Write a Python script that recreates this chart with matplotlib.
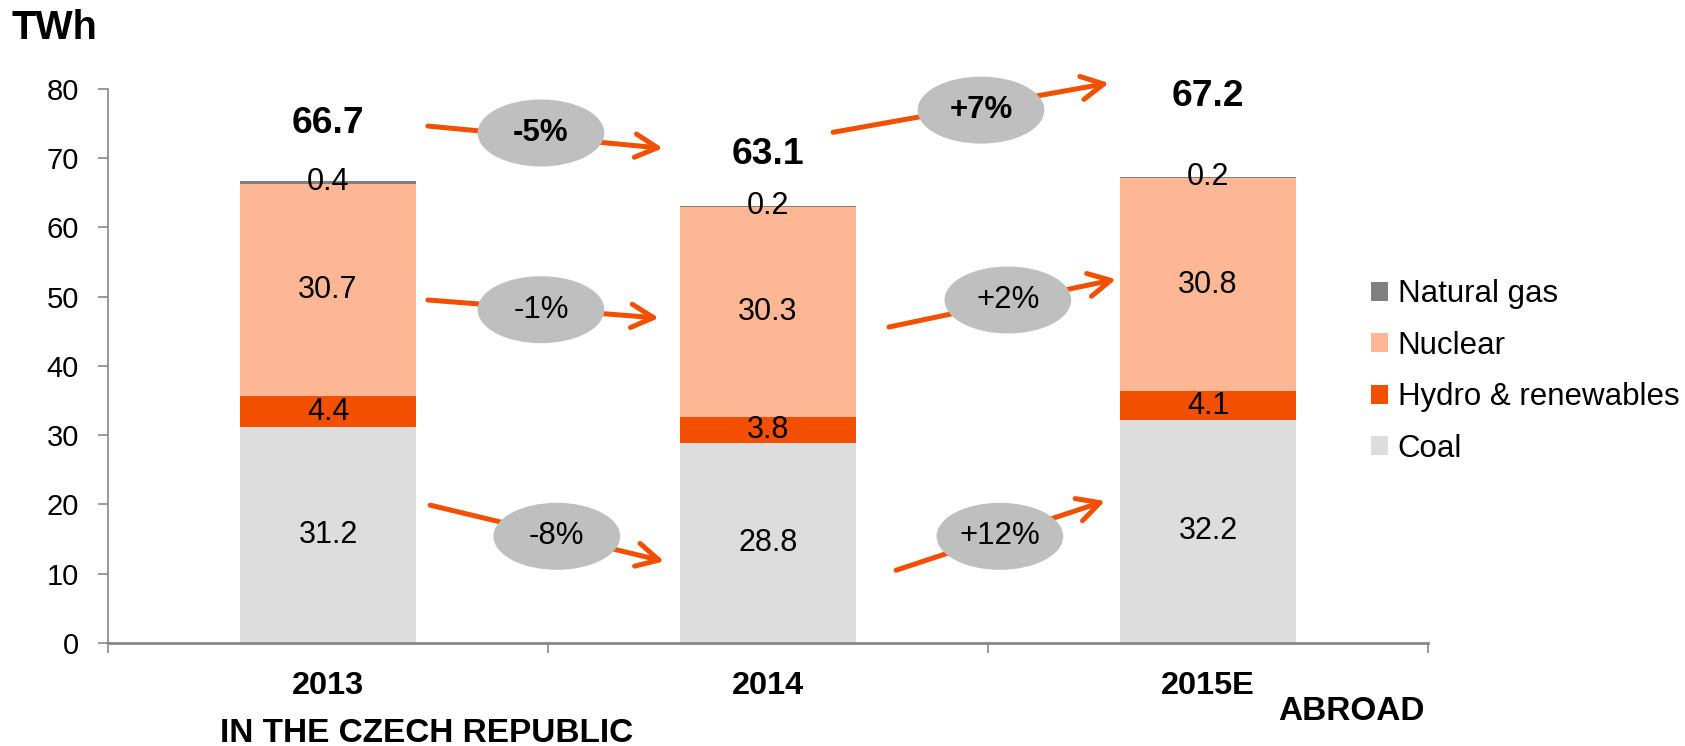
import matplotlib
matplotlib.use('Agg')
import matplotlib.pyplot as plt
from matplotlib.patches import Ellipse
import numpy as np

plt.rcParams['font.family'] = ['Liberation Sans', 'DejaVu Sans']

years = ['2013', '2014', '2015E']
coal = [31.2, 28.8, 32.2]
hydro = [4.4, 3.8, 4.1]
nuclear = [30.7, 30.3, 30.8]
gas = [0.4, 0.2, 0.2]
totals = ['66.7', '63.1', '67.2']

# percentage changes between years (label, bold?)
changes = ['-5%', '+7%', '-1%', '+2%', '-8%', '+12%']
changes_bold = [True, True, False, False, False, False]

# layout of the annotations (data units)
total_label_y = [75.0, 70.5, 78.8]
ellipse_xy = [(0.484, 73.6), (1.484, 76.9), (0.484, 48.1),
              (1.545, 49.5), (0.520, 15.4), (1.527, 15.4)]
arrow_start = [(0.227, 74.6), (1.148, 73.7), (0.227, 49.5),
               (1.275, 45.6), (0.232, 19.9), (1.291, 10.5)]
arrow_tip = [(0.761, 71.4), (1.775, 80.8), (0.752, 46.9),
             (1.791, 52.5), (0.764, 11.8), (1.766, 20.5)]

c_coal = '#DDDDDD'
c_hydro = '#F25000'
c_nuc = '#FEB794'
c_gas = '#808080'
c_axis = '#888888'

fig = plt.figure(figsize=(16.85, 7.46), dpi=100)
ax = fig.add_axes([0.0641, 0.138, 0.7834, 0.7432])

x = np.arange(len(years))
w = 0.4
b1 = ax.bar(x, coal, w, color=c_coal, label='Coal')
bot = np.array(coal)
b2 = ax.bar(x, hydro, w, bottom=bot, color=c_hydro, label='Hydro & renewables')
bot = bot + np.array(hydro)
b3 = ax.bar(x, nuclear, w, bottom=bot, color=c_nuc, label='Nuclear')
bot = bot + np.array(nuclear)
b4 = ax.bar(x, gas, w, bottom=bot, color=c_gas, label='Natural gas')

for bars, vals in [(b1, coal), (b2, hydro), (b3, nuclear), (b4, gas)]:
    ax.bar_label(bars, labels=[f'{v:.1f}' for v in vals], label_type='center',
                 fontsize=22, color='black')

for i, t in enumerate(totals):
    ax.text(x[i], total_label_y[i], t, ha='center', va='center',
            fontsize=26.8, fontweight='bold')

for i, lab in enumerate(changes):
    ax.annotate('', xy=arrow_tip[i], xytext=arrow_start[i],
                arrowprops=dict(arrowstyle='->,head_length=0.8,head_width=0.42',
                                color=c_hydro, lw=3.6, mutation_scale=20,
                                shrinkA=0, shrinkB=0),
                annotation_clip=False, zorder=3)
    ax.add_patch(Ellipse(ellipse_xy[i], 0.288, 9.67, facecolor='#BFBFBF',
                         edgecolor='none', zorder=4, clip_on=False))
    ax.text(ellipse_xy[i][0], ellipse_xy[i][1], lab, ha='center', va='center',
            fontsize=22.5, fontweight='bold' if changes_bold[i] else 'normal',
            zorder=5)

ax.set_xlim(-0.5, 2.5)
ax.set_ylim(0, 80)
ax.set_yticks(np.arange(0, 81, 10))
ax.set_xticks(x)
ax.set_xticklabels(years, fontsize=23.4, fontweight='bold')
ax.set_xticks([-0.5, 0.5, 1.5, 2.5], minor=True)
ax.tick_params(axis='x', which='major', length=0, pad=20)
ax.tick_params(axis='x', which='minor', length=7, width=1.2, color=c_axis)
ax.tick_params(axis='y', length=7, width=1.2, color=c_axis, pad=14, labelsize=21)

for s in ['top', 'right']:
    ax.spines[s].set_visible(False)
ax.spines['left'].set_color(c_axis)
ax.spines['left'].set_linewidth(1.2)
ax.spines['bottom'].set_color(c_axis)
ax.spines['bottom'].set_linewidth(2)

fig.text(0.0071, 0.962, 'TWh', fontsize=28.5, fontweight='bold', ha='left', va='center')
fig.text(0.2534, 0.0174, 'IN THE CZECH REPUBLIC', fontsize=24, fontweight='bold',
         ha='center', va='center')
fig.text(0.8457, 0.0469, 'ABROAD', fontsize=24, fontweight='bold',
         ha='right', va='center')

handles = [b4, b3, b2, b1]
fig.legend(handles, [h.get_label() for h in handles], loc='center left',
           bbox_to_anchor=(0.8137, 0.502), frameon=False, fontsize=22.5,
           handlelength=0.55, handleheight=0.55, handletextpad=0.3,
           labelspacing=0.69, borderpad=0, borderaxespad=0)

plt.savefig('out.png', dpi=100)
